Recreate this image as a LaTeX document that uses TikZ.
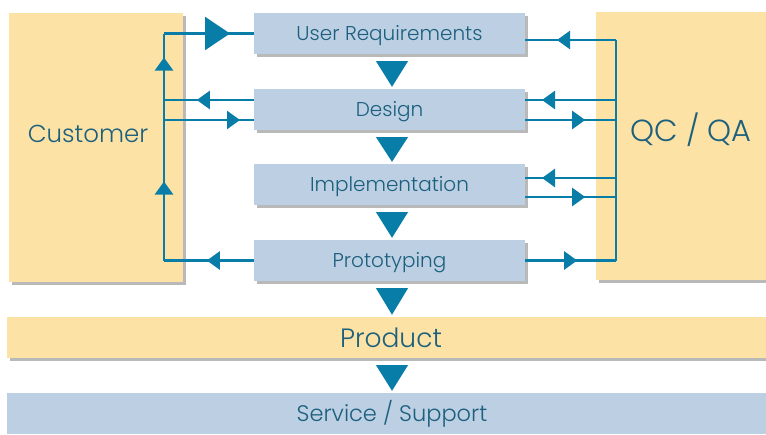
\documentclass[tikz,border=0pt]{standalone}
\usepackage{fontspec}
\setmainfont{Poppins}[UprightFont=* Light]
\usetikzlibrary{arrows.meta,decorations.markings,shadows,calc}
\definecolor{flowblue}{RGB}{8,125,168}
\definecolor{inkblue}{RGB}{28,96,126}
\definecolor{stepblue}{RGB}{188,207,227}
\definecolor{partyellow}{RGB}{253,226,166}
\tikzset{
  flow/.style={draw=flowblue, line width=2.4pt},
  tipat/.style={postaction={decorate, decoration={markings, mark=at position #1 with {\arrow[flowblue]{Triangle[length=13pt,width=18pt]}}}}},
  bigtipat/.style={postaction={decorate, decoration={markings, mark=at position #1 with {\arrow[flowblue]{Triangle[length=25pt,width=33pt]}}}}},
  shade/.style={drop shadow={shadow xshift=2.5pt, shadow yshift=-2.5pt, fill=black!50, opacity=0.55}},
  stepbox/.style={shade, fill=stepblue, inner sep=0pt, minimum width=271pt, minimum height=41pt,
    text=inkblue, font=\fontsize{20}{23}\selectfont, text depth=1.5pt},
  partybox/.style={shade, fill=partyellow, inner sep=0pt},
  wide/.style={inner sep=0pt, minimum width=759pt, minimum height=41pt}
}
\begin{document}
\begin{tikzpicture}[x=1pt,y=-1pt]
  \useasboundingbox (0,0) rectangle (766,434);

  \node[partybox, minimum width=174pt, minimum height=269pt] (cust) at (96,147.5) {};
  \node[text=inkblue, font=\fontsize{24.5}{28}\selectfont] (custlbl) at (88,134) {Customer};

  \node[partybox, minimum width=172pt, minimum height=268pt] (qcqa) at (682,146) {};
  \node[text=inkblue, font=\fontsize{30.5}{34}\selectfont] (qcqalbl) at (691,130) {QC / QA};

  \node[stepbox] (ureq) at (389.5,33.5) {User Requirements};
  \node[stepbox] (design) at (389.5,109.5) {Design};
  \node[stepbox] (impl) at (389.5,184.5) {Implementation};
  \node[stepbox] (proto) at (389.5,260.5) {Prototyping};

  \node[partybox, wide] (prod) at (386.5,337.5) {};
  \node[text=inkblue, font=\fontsize{26.5}{31}\selectfont] (prodlbl) at (391,338) {Product};
  \node[fill=stepblue, wide] (serv) at (386.5,413.5) {};
  \node[text=inkblue, font=\fontsize{22.5}{26}\selectfont] (servlbl) at (392,414) {Service / Support};

  \foreach \a/\b in {ureq/design,design/impl,impl/proto,proto/prod,prod/serv}
    \fill[flowblue] ($(392,0 |- \a.south)+(-16,7)$) -- ($(392,0 |- \a.south)+(16,7)$)
      -- ($(392,0 |- \b.north)+(0,-2)$) -- cycle;

  \coordinate (ltop) at (164,33.5);
  \coordinate (ldup) at (164,100);
  \coordinate (lddn) at (164,120);
  \coordinate (lbot) at (164,260.5);

  \coordinate (rtop) at (616,40);
  \coordinate (rdup) at (616,100);
  \coordinate (rddn) at (616,120);
  \coordinate (riup) at (616,178);
  \coordinate (ridn) at (616,197);
  \coordinate (rbot) at (616,260.5);

  \draw[flow, tipat=79pt, tipat=203pt] (lbot) -- (ltop);
  \draw[flow, bigtipat=66pt] (ltop) -- (ureq.west);
  \draw[flow, tipat=57pt] (design.west |- ldup) -- (ldup);
  \draw[flow, tipat=76pt] (lddn) -- (design.west |- lddn);
  \draw[flow, tipat=47pt] (proto.west) -- (lbot);

  \draw[flow] (rtop) -- (rbot);
  \draw[flow, tipat=59pt] (rtop) -- (ureq.east |- rtop);
  \draw[flow, tipat=74pt] (rdup) -- (design.east |- rdup);
  \draw[flow, tipat=60pt] (design.east |- rddn) -- (rddn);
  \draw[flow, tipat=74pt] (riup) -- (impl.east |- riup);
  \draw[flow, tipat=60pt] (impl.east |- ridn) -- (ridn);
  \draw[flow, tipat=52pt] (proto.east) -- (rbot);
\end{tikzpicture}
\end{document}
